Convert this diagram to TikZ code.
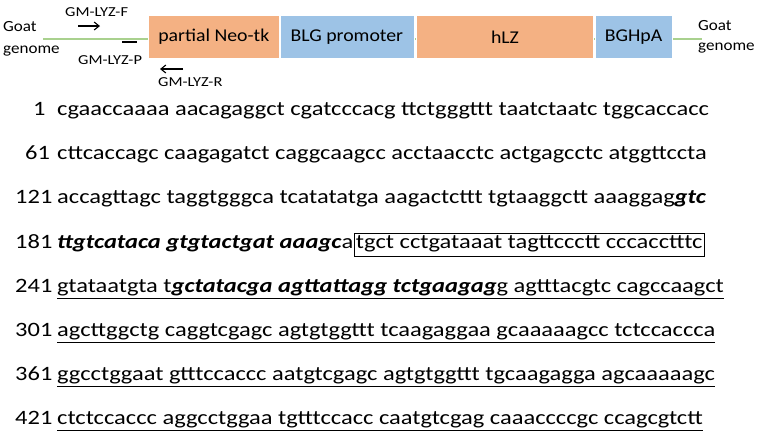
\documentclass[tikz,border=0pt]{standalone}
\usepackage{fontspec}
\setmainfont{Carlito}[FakeStretch=1.2]
\newfontfamily\hdrfont{Carlito}[FakeStretch=1.1]
\usetikzlibrary{arrows.meta}
\usetikzlibrary{positioning}

\definecolor{neoorange}{HTML}{F4B183}
\definecolor{blgblue}{HTML}{9DC3E6}
\definecolor{goatgreen}{HTML}{A9D18E}

\newcommand{\bi}[1]{\textbf{\textit{#1}}}

\begin{document}
\begin{tikzpicture}[x=1pt, y=-1pt,
  part/.style={minimum height=43pt, inner sep=0pt, draw=white, line width=0.6pt,
    font=\hdrfont\fontsize{18}{20}\selectfont},
  primer/.style={font=\fontsize{13.7}{16}\selectfont, inner sep=0pt, anchor=west},
  goat/.style={primer, align=left},
  primerarrow/.style={line width=1.1pt, -{Straight Barb[length=5pt, width=8pt]}},
  seq/.style={font=\fontsize{20.4}{24}\selectfont, inner sep=0pt, anchor=base west},
  num/.style={seq},
  uline/.style={line width=1pt}]
\useasboundingbox (0,0) rectangle (759,437);

% construct
\draw [goatgreen, line width=2pt]
     (43,39) coordinate (g-left)
  -- (702,39) coordinate (g-right);
\node[part, fill=neoorange, minimum width=131pt, anchor=west] (neo) at (148,37) {partial Neo-tk};
\node[part, fill=blgblue, minimum width=134pt, right=0pt of neo] (blg) {BLG promoter};
\node[part, fill=neoorange, minimum width=177pt, right=2pt of blg] (hlz) {hLZ};
\node[part, fill=blgblue, minimum width=77pt, right=1pt of hlz] (bgh) {BGHpA};

\node[goat, font=\hdrfont\fontsize{15.5}{22}\selectfont] (goat-l) at (3,39) {Goat\\genome};
\node[goat, font=\hdrfont\fontsize{15.5}{20}\selectfont] (goat-r) at (698,37) {Goat\\genome};

% primers
\node[primer] (lyz-f) at (65,12) {GM-LYZ-F};
\node[primer] (lyz-p) at (78,60) {GM-LYZ-P};
\node[primer] (lyz-r) at (158,82) {GM-LYZ-R};
\draw [primerarrow] (78,26) -- (100,26);
\draw [line width=1.1pt] (122,42) -- (137,42);
\draw [primerarrow] (183,69) -- (160,69);

% sequence
\node[seq] (s1) at (57,115.7) {cgaaccaaaa aacagaggct cgatcccacg ttctgggttt taatctaatc tggcaccacc};
\node[seq] (s2) at (57,159.8) {cttcaccagc caagagatct caggcaagcc acctaacctc actgagcctc atggttccta};
\node[seq] (s3) at (57,203.9) {accagttagc taggtgggca tcatatatga aagactcttt tgtaaggctt aaaggag\bi{gtc}};
\node[seq] (s4) at (57,248.0) {\bi{ttgtcataca gtgtactgat aaagc}a};
\node[seq, draw, line width=0.8pt, inner xsep=2pt, text height=15pt, text depth=8pt] (box4)
  at (s4.base east) {tgct cctgataaat tagttccctt cccacctttc};
\node[seq] (s5) at (57,292.1) {gtataatgta t\bi{gctatacga agttattagg tctgaagag}g agtttacgtc cagccaagct};
\node[seq] (s6) at (57,336.2) {agcttggctg caggtcgagc agtgtggttt tcaagaggaa gcaaaaagcc tctccaccca};
\node[seq] (s7) at (57,380.3) {ggcctggaat gtttccaccc aatgtcgagc agtgtggttt tgcaagagga agcaaaaagc};
\node[seq] (s8) at (57,424.4) {ctctccaccc aggcctggaa tgtttccacc caatgtcgag caaaccccgc ccagcgtctt};

\foreach \n/\x/\r in {1/33/1, 61/25/2, 121/15/3, 181/15/4, 241/15/5, 301/15/6, 361/15/7, 421/15/8}
  \node[num] (n\r) at (\x, {115.7+44.1*(\r-1)}) {\n};

\foreach \r in {5,...,8}
  \draw [uline] ([yshift=-6.5pt]s\r.base west) -- ([yshift=-6.5pt]s\r.base east);
\end{tikzpicture}
\end{document}
